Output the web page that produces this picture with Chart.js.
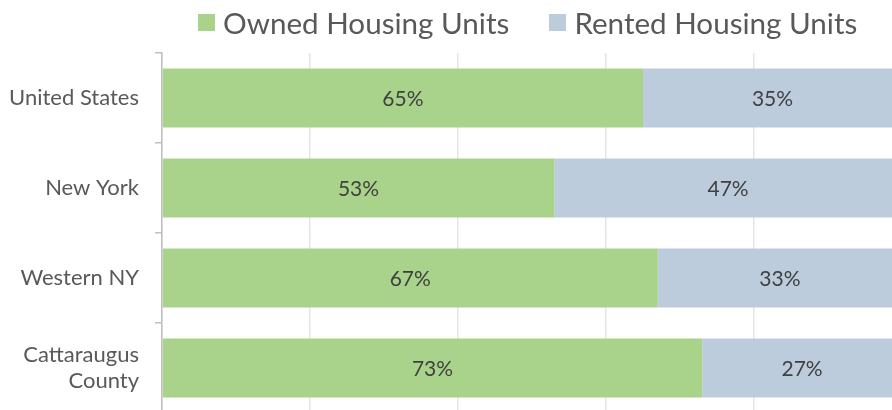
<!DOCTYPE html>
<html>
<head>
<meta charset="utf-8">
<script src="https://cdn.jsdelivr.net/npm/chart.js@4/dist/chart.umd.min.js"></script>
<style>
  html, body { margin: 0; padding: 0; background: #fff; overflow: hidden; width: 892px; height: 410px; }
  #wrap { position: relative; width: 892px; height: 410px; overflow: hidden; }
  #c { position: absolute; left: 0; top: 0; }
  .legend { position: absolute; left: 198px; top: 5px; display: flex; align-items: center;
            font-family: Lato, sans-serif; font-size: 29.6px; color: #595959; white-space: nowrap; }
  .item { display: flex; align-items: center; }
  .item + .item { margin-left: 40px; }
  .sw { width: 17px; height: 17px; margin-right: 8px; }
</style>
</head>
<body>
<div id="wrap">
  <canvas id="c" width="912" height="420"></canvas>
  <div class="legend" id="legend"></div>
</div>
<script>
// Housing tenure shares, percent of occupied units
const regions = ['United States', 'New York', 'Western NY', ['Cattaraugus', 'County']];
const ownedShare = [65, 53, 67, 73];
const rentedShare = [35, 47, 33, 27];
const seriesNames = ['Owned Housing Units', 'Rented Housing Units'];
const seriesColors = ['#A9D38A', '#BCCCDC'];

const FONT = 'Lato, sans-serif';
const TEXT = '#595959';

// legend above the plot
const legendEl = document.getElementById('legend');
seriesNames.forEach((name, i) => {
  const item = document.createElement('div');
  item.className = 'item';
  const sw = document.createElement('span');
  sw.className = 'sw';
  sw.style.background = seriesColors[i];
  const label = document.createElement('span');
  label.textContent = name;
  item.appendChild(sw);
  item.appendChild(label);
  legendEl.appendChild(item);
});

// percentage text centred inside every bar segment
const segmentLabels = {
  id: 'segmentLabels',
  afterDraw(chart) {
    const ctx = chart.ctx;
    ctx.save();
    ctx.font = '21px ' + FONT;
    ctx.fillStyle = '#404040';
    ctx.textAlign = 'center';
    ctx.textBaseline = 'middle';
    chart.data.datasets.forEach((ds, i) => {
      chart.getDatasetMeta(i).data.forEach((bar, j) => {
        const p = bar.getCenterPoint();
        ctx.fillText(ds.data[j] + '%', p.x, p.y + 1);
      });
    });
    ctx.restore();
  }
};

function draw() {
  new Chart(document.getElementById('c'), {
    type: 'bar',
    data: {
      labels: regions,
      datasets: [
        { label: seriesNames[0], data: ownedShare, backgroundColor: seriesColors[0] },
        { label: seriesNames[1], data: rentedShare, backgroundColor: seriesColors[1] }
      ]
    },
    options: {
      indexAxis: 'y',
      responsive: false,
      animation: false,
      events: [],
      categoryPercentage: 1,
      barPercentage: 0.656,
      layout: { padding: { left: 0, top: 53, right: 10, bottom: 7 } },
      plugins: { legend: { display: false }, tooltip: { enabled: false } },
      scales: {
        x: {
          stacked: true,
          min: 0,
          max: 100,
          z: 1,
          afterFit(scale) { scale.height = 0; scale.paddingLeft = 0; scale.paddingRight = 0; },
          ticks: { display: false, stepSize: 20 },
          grid: { color: 'rgba(0,0,0,0.1)', lineWidth: 1.5, drawTicks: false },
          border: { display: false }
        },
        y: {
          stacked: true,
          afterFit(scale) { scale.width = 162; scale.paddingTop = 0; scale.paddingBottom = 0; },
          ticks: { color: TEXT, font: { family: FONT, size: 22, lineHeight: 1.15 }, padding: 16 },
          grid: { drawOnChartArea: false, offset: true, tickLength: 7, color: '#BFBFBF', lineWidth: 1.5 },
          border: { color: '#BFBFBF', width: 1.5 }
        }
      }
    },
    plugins: [segmentLabels]
  });
}

document.fonts.load('22px Lato').then(draw, draw);
</script>
</body>
</html>
